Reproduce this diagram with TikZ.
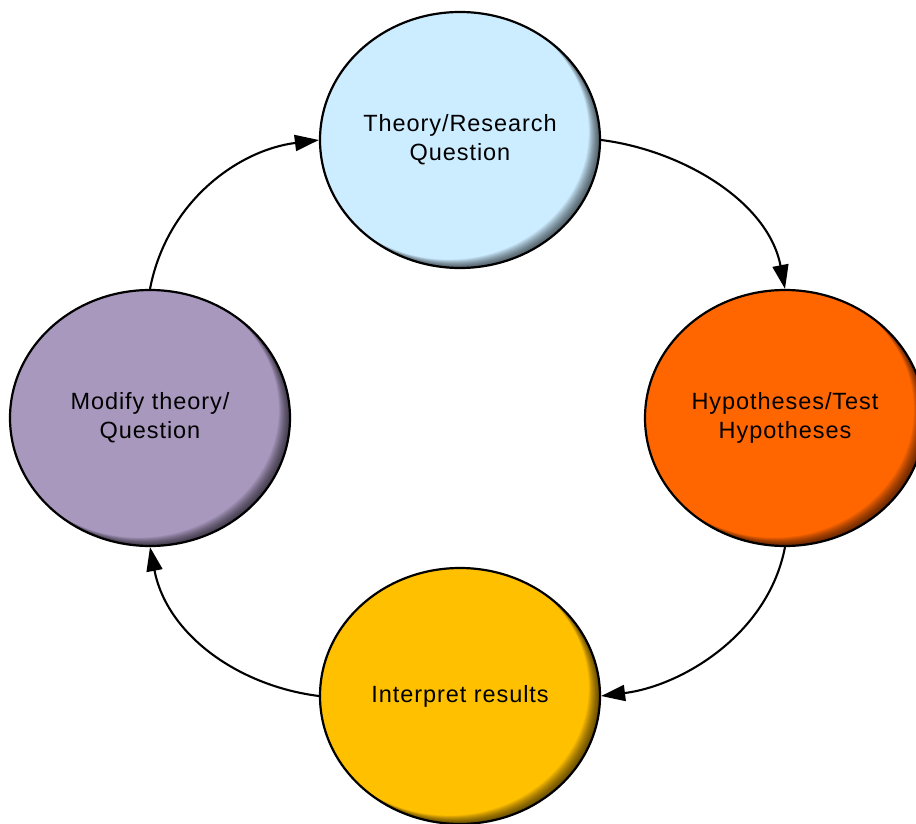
\documentclass[tikz,border=0pt]{standalone}
\usepackage{fontspec}
\setmainfont{Liberation Sans}
\usetikzlibrary{shapes.geometric,arrows.meta}
\definecolor{theoryblue}{HTML}{CCECFF}
\definecolor{hypoorange}{HTML}{FF6600}
\definecolor{resultgold}{HTML}{FFC000}
\definecolor{modifypurple}{HTML}{A898BE}
\begin{document}
\begin{tikzpicture}[x=1pt,y=-1pt,
  stage/.style={ellipse, draw=black, line width=2.2pt, inner sep=0pt,
    minimum width=280pt, minimum height=256pt, align=center,
    font=\fontsize{23.5}{29}\selectfont\addfontfeature{LetterSpace=4}},
  flow/.style={line width=2.1pt, -{Triangle[length=24pt,width=16pt]}}]
\clip (0,0) rectangle (916,824);

% the four stages of the cycle
\node[stage, fill=theoryblue]   (T) at (460,140) {Theory/Research\\Question};
\node[stage, fill=hypoorange]   (R) at (785,418) {Hypotheses/Test\\Hypotheses};
\node[stage, fill=resultgold]   (B) at (460,696) {Interpret results};
\node[stage, fill=modifypurple] (L) at (150,418) {Modify theory/\\Question};

% soft inner shadow along the lower right rim of each stage
\foreach \n in {T,R,B,L} {
  \begin{scope}
    \clip (\n.center) ellipse [x radius=140, y radius=128];
    \foreach \d in {1,...,14}
      \fill[black, opacity=0.06, even odd rule]
        (-20,-20) rectangle (940,850)
        ([shift={(-0.8*\d,-0.6*\d)}]\n.center) ellipse [x radius=140, y radius=128];
  \end{scope}
}

% curved connectors around the cycle
\draw[flow] (T.east)  .. controls +(80,10)   and +(-17,-88) .. (R.north);
\draw[flow] (R.south) .. controls +(-17,88)  and +(80,-10)  .. (B.east);
\draw[flow] (B.west)  .. controls +(-80,-10) and +(17,88)   .. (L.south);
\draw[flow] (L.north) .. controls +(17,-88)  and +(-80,10)  .. (T.west);
\end{tikzpicture}
\end{document}
